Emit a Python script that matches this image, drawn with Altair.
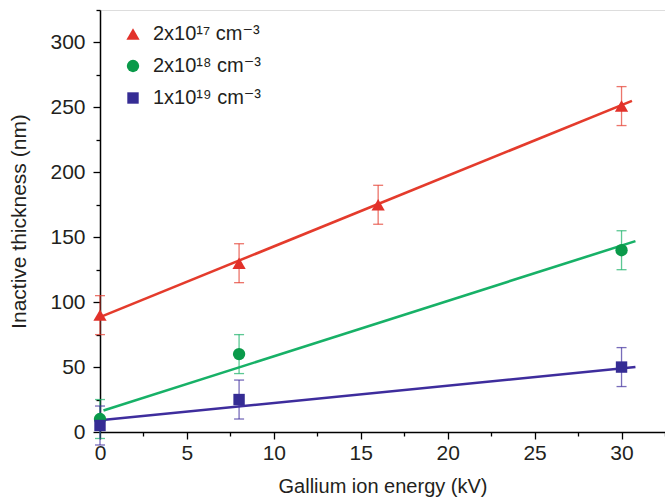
import altair as alt
import pandas as pd

# ---- data ----
series = ["2x10¹⁷ cm⁻³", "2x10¹⁸ cm⁻³", "1x10¹⁹ cm⁻³"]
energy = [[0, 8, 16, 30], [0, 8, 30], [0, 8, 30]]
thickness = [[90, 130, 175, 251], [10, 60, 140], [5, 25, 50]]
error = [[15, 15, 15, 15], [15, 15, 15], [15, 15, 15]]

# linear fit lines (start / end)
fit_x0 = [0.0, 0.2, 0.0]
fit_x1 = [30.6, 30.8, 30.8]
fit_y0 = [88.5, 16.5, 9.0]
fit_y1 = [255.0, 147.0, 50.0]

x_ticks = [i * 2.5 for i in range(14)]
y_ticks = [i * 25 for i in range(14)]

# ---- styles ----
marker_colors = ["#e2312a", "#0a9a4a", "#352c94"]
line_colors = ["#e43b2c", "#17b167", "#3e2d9d"]
shapes = ["triangle-up", "circle", "square"]
marker_sizes = [175, 130, 105]
FONT = "Liberation Sans"
TXT = "#231f20"

rows = []
for s, xs, ys, es in zip(series, energy, thickness, error):
    for x, y, e in zip(xs, ys, es):
        rows.append({"series": s, "x": x, "y": y, "lo": y - e, "hi": y + e})
pts = pd.DataFrame(rows)

lrows = []
for s, a, b, c, d in zip(series, fit_x0, fit_x1, fit_y0, fit_y1):
    lrows.append({"series": s, "x": a, "y": c})
    lrows.append({"series": s, "x": b, "y": d})
lines = pd.DataFrame(lrows)

xscale = alt.Scale(domain=[0, 32.5], nice=False, zero=False)
yscale = alt.Scale(domain=[0, 325], nice=False, zero=False)

x_axis = alt.Axis(
    values=x_ticks,
    labelExpr="datum.value % 5 == 0 ? '' + datum.value : ''",
    tickSize={"condition": {"test": "datum.value % 5 != 0", "value": 4}, "value": 7},
    grid=False, domainColor="#000", domainWidth=1.5, tickColor="#000", tickWidth=1.3,
    labelFont=FONT, labelFontSize=21, labelColor=TXT, labelPadding=3,
    labelFlush=False, labelOverlap=False,
    title="Gallium ion energy (kV)", titleFont=FONT, titleFontSize=20,
    titleFontWeight="normal", titleColor=TXT, titlePadding=13,
)
y_axis = alt.Axis(
    values=y_ticks,
    labelExpr="datum.value % 50 == 0 ? '' + datum.value : ''",
    tickSize={"condition": {"test": "datum.value % 50 != 0", "value": 4}, "value": 7},
    grid=False, domainColor="#000", domainWidth=1.5, tickColor="#000", tickWidth=1.3,
    labelFont=FONT, labelFontSize=21, labelColor=TXT, labelPadding=8,
    labelFlush=False, labelOverlap=False,
    title="Inactive thickness (nm)", titleFont=FONT, titleFontSize=21,
    titleFontWeight="normal", titleColor=TXT, titlePadding=20,
)

X = alt.X("x:Q", scale=xscale, axis=x_axis)

layers = []
for i, s in enumerate(series):
    base = alt.Chart(pts).transform_filter(alt.datum.series == s)
    layers.append(base.mark_rule(color=line_colors[i], strokeWidth=1.3, opacity=0.7).encode(
        x=X, y=alt.Y("lo:Q", scale=yscale, axis=y_axis), y2="hi:Q"))
    layers.append(base.mark_tick(color=line_colors[i], orient="horizontal", size=10,
                                 thickness=1.3, opacity=0.7).encode(
        x=X, y=alt.Y("lo:Q", scale=yscale, axis=y_axis)))
    layers.append(base.mark_tick(color=line_colors[i], orient="horizontal", size=10,
                                 thickness=1.3, opacity=0.7).encode(
        x=X, y=alt.Y("hi:Q", scale=yscale, axis=y_axis)))
    layers.append(alt.Chart(lines).transform_filter(alt.datum.series == s)
                  .mark_line(color=line_colors[i], strokeWidth=2.6).encode(
        x=X, y=alt.Y("y:Q", scale=yscale, axis=y_axis)))

legend = alt.Legend(
    title=None, orient="none", legendX=23, legendY=14, padding=0,
    labelFont="Liberation Sans, DejaVu Sans", labelFontSize=20, labelColor=TXT,
    symbolSize=140, symbolStrokeWidth=0, labelOffset=10, rowPadding=12,
)

points = alt.Chart(pts).mark_point(filled=True, opacity=1).encode(
    x=X,
    y=alt.Y("y:Q", scale=yscale, axis=y_axis),
    color=alt.Color("series:N", scale=alt.Scale(domain=series, range=marker_colors),
                    sort=series, legend=legend),
    shape=alt.Shape("series:N", scale=alt.Scale(domain=series, range=shapes),
                    sort=series, legend=legend),
    size=alt.Size("series:N", scale=alt.Scale(domain=series, range=marker_sizes),
                  sort=series, legend=None),
)
layers.append(points)

chart = alt.layer(*layers).properties(
    width=565, height=422,
    padding={"left": 100, "top": 10, "right": 0, "bottom": 69},
    autosize=alt.AutoSizeParams(type="none"),
).configure_view(stroke=None).configure(background="white")

chart.save("out.html", embed_options={"renderer": "svg", "actions": False})
